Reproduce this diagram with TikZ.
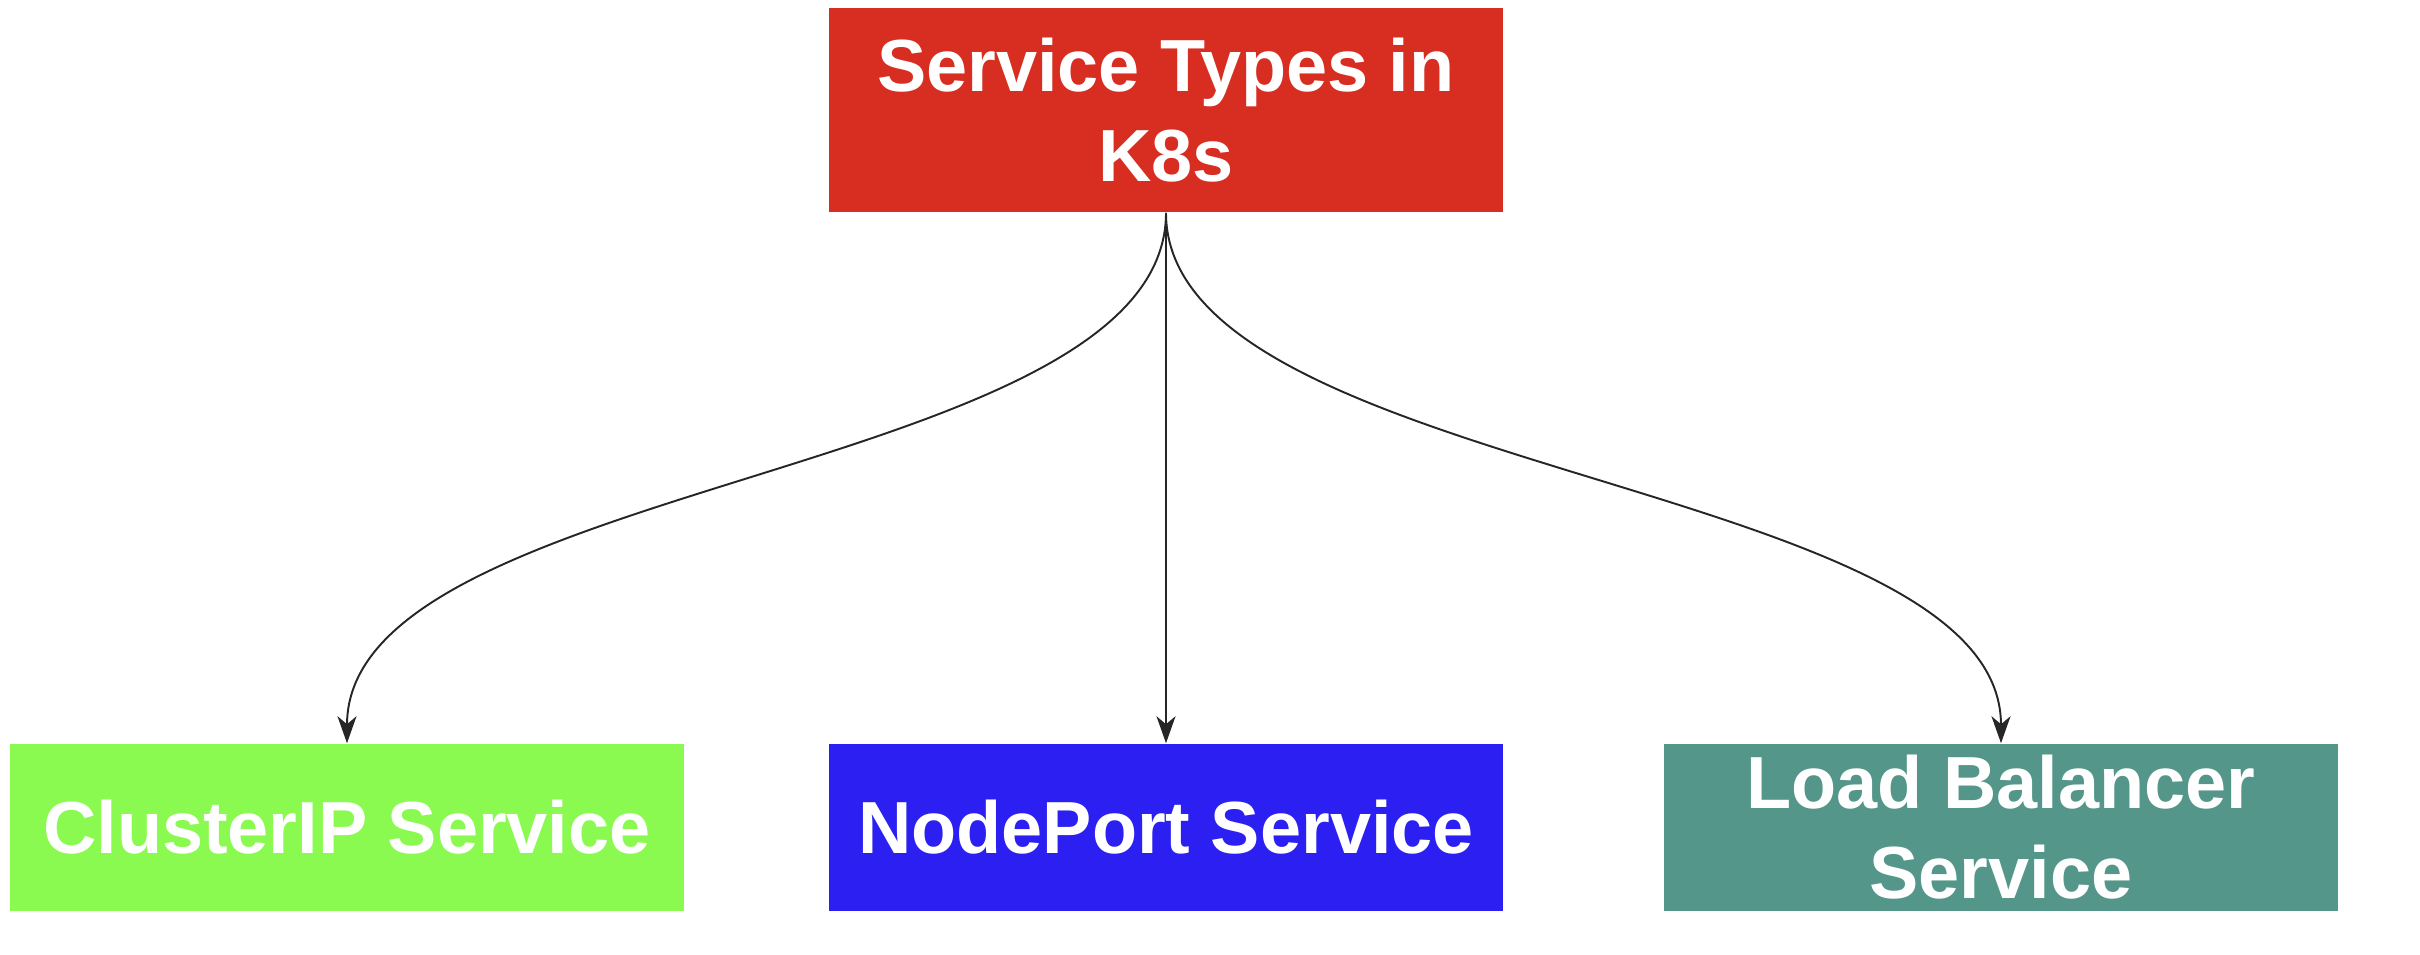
\documentclass[tikz,border=0pt]{standalone}
\usepackage{fontspec}
\setmainfont{Liberation Sans}
\usepackage{tikz}
\usetikzlibrary{arrows.meta,positioning,calc}
\definecolor{typered}{HTML}{D82D21}
\definecolor{cipgreen}{HTML}{8AFA50}
\definecolor{npblue}{HTML}{2B1FF2}
\definecolor{lbteal}{HTML}{549689}
\tikzstyle{svcbox}=[rectangle,text=white,font=\bfseries\fontsize{21}{25.6}\selectfont,align=center,minimum width=6.73cm,inner sep=0pt]
\tikzstyle{link}=[draw=black!85,line width=0.55pt,-{Stealth[length=0.27cm,width=0.19cm,inset=0.08cm]}]

\begin{document}
\begin{tikzpicture}[x=0.01cm,y=-0.01cm]
\useasboundingbox (0,0) rectangle (2420,954);
\node [svcbox,fill=typered,minimum height=2.04cm] (types) at (1166,110) {Service Types in\\K8s};
\node [svcbox,fill=cipgreen,minimum height=1.67cm] (cip) at (347,827.5) {ClusterIP Service};
\node [svcbox,fill=npblue,minimum height=1.67cm] (np) at (1166,827.5) {NodePort Service};
\node [svcbox,fill=lbteal,minimum height=1.67cm] (lb) at (2001,827.5) {Load Balancer\\Service};
\coordinate (mid) at (1166,477.5);
\draw [link] (types.south) .. controls (types.south |- mid) and (cip.north |- mid) .. (cip.north);
\draw [link] (types.south) -- (np.north);
\draw [link] (types.south) .. controls (types.south |- mid) and (lb.north |- mid) .. (lb.north);
\end{tikzpicture}
\end{document}
